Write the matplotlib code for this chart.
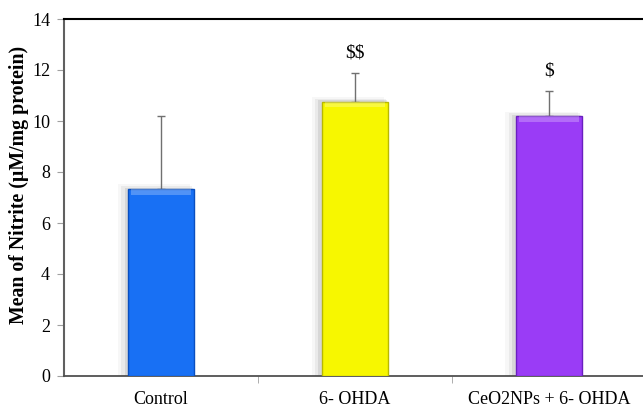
import numpy as np
import matplotlib
matplotlib.use('Agg')
import matplotlib.pyplot as plt

# Data
groups = ['Control', '6- OHDA', 'CeO2NPs + 6- OHDA']
means = [7.33, 10.75, 10.18]
errors = [2.87, 1.12, 0.98]
marks = ['', '$$', '$']
colors = ['#1870f4', '#f7f700', '#9a3cf6']
edges = ['#0a4fc0', '#b8b800', '#6a1fc0']

fig = plt.figure(figsize=(6.43, 4.07), dpi=100)
ax = fig.add_axes([64 / 643, 1 - 376 / 407, 1 - 64 / 643, (376 - 19) / 407])

x = np.arange(len(groups))
w = 0.34

# soft shadow behind bars
for dx, a in [(0.012, 0.10), (0.024, 0.07), (0.036, 0.04)]:
    ax.bar(x - dx, np.array(means) + dx * 5, width=w + dx, color='#404040', alpha=a, zorder=1)

ax.bar(x, means, width=w, color=colors, edgecolor=edges, linewidth=1.0, zorder=3)
# bevel highlight on top strip
ax.bar(x, [0.22] * 3, bottom=np.array(means) - 0.22, width=w * 0.9,
       color='white', alpha=0.25, linewidth=0, zorder=4)

ax.errorbar(x, means, yerr=[[0] * 3, errors], fmt='none', ecolor='#707070',
            elinewidth=1.0, capsize=3, capthick=1.0, zorder=2)

for xi, m, e, s in zip(x, means, errors, marks):
    if s:
        ax.text(xi, m + e + 0.8, s, ha='center', va='center', fontsize=14,
                family='Liberation Serif', parse_math=False)

ax.set_xlim(-0.5, 2.485)
ax.set_ylim(0, 14)
ax.set_yticks(range(0, 15, 2))
ax.set_xticks(x)
ax.set_xticklabels(groups, family='Liberation Serif', fontsize=13)
ax.set_xticks([0.5, 1.5], minor=True)
ax.tick_params(axis='x', which='major', length=0, pad=11)
ax.tick_params(axis='x', which='minor', length=5, color='#a0a0a0', direction='out')
ax.tick_params(axis='y', length=5, color='#a0a0a0', labelsize=13, pad=5)
for lab in ax.get_yticklabels():
    lab.set_family('Liberation Serif')

ax.spines['right'].set_visible(False)
ax.spines['top'].set_color('black')
ax.spines['top'].set_linewidth(1.5)
ax.spines['left'].set_color('#606060')
ax.spines['left'].set_linewidth(1.5)
ax.spines['bottom'].set_color('#505050')
ax.spines['bottom'].set_linewidth(1.3)

ax.set_ylabel('Mean of Nitrite (\u00b5M/mg protein)', family='Liberation Serif',
              fontweight='bold', fontsize=14.3)
ax.yaxis.set_label_coords(-0.06, 0.535)

fig.savefig('out.png', dpi=100)
